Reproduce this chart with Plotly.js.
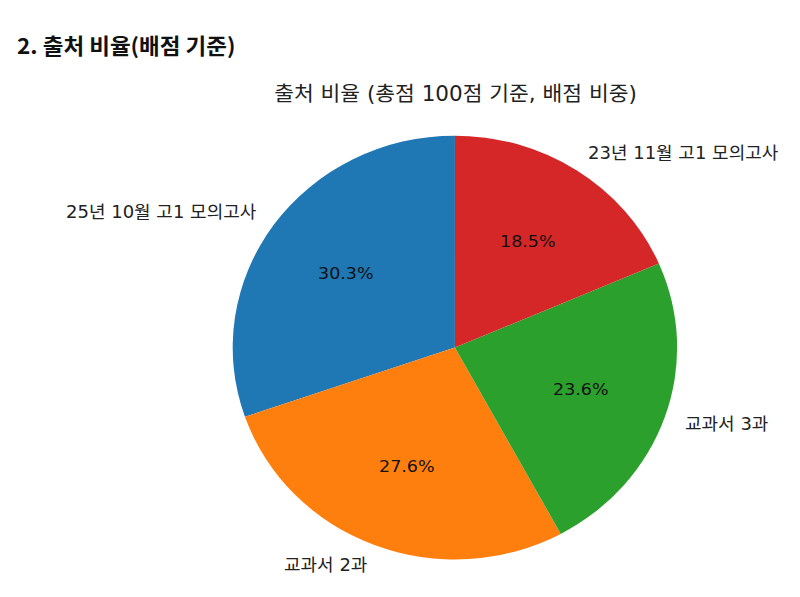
<!DOCTYPE html>
<html>
<head>
<meta charset="utf-8">
<script src="https://cdn.plot.ly/plotly-3.0.1.min.js"></script>
<style>
  body { margin: 0; background: #fff; }
  #wrap { width: 800px; height: 597px; overflow: hidden; }
  /* the reference picture is squeezed a little in height, so draw taller and scale down */
  #plot { width: 800px; height: 626px; transform: scaleY(0.9537); transform-origin: 0 0; }
</style>
</head>
<body>
<div id="wrap"><div id="plot"></div></div>
<script>
const heading = '2. 출처 비율(배점 기준)';
const chartTitle = '출처 비율 (총점 100점 기준, 배점 비중)';
const categories = ['25년 10월 고1 모의고사', '교과서 2과', '교과서 3과', '23년 11월 고1 모의고사'];
const values = [30.3, 27.6, 23.6, 18.5];
const colors = ['#1f77b4', '#ff7f0e', '#2ca02c', '#d62728'];

const W = 800, H = 626;
const domX = [0.2909, 0.8464];
const domY = [0.0629, 0.7728];
const baseFont = 'DejaVu Sans, Noto Sans CJK KR, sans-serif';

// pie geometry in pixels, for placing labels the way matplotlib does
const cx = (domX[0] + domX[1]) / 2 * W;
const cy = H - (domY[0] + domY[1]) / 2 * H;
const r = (domX[1] - domX[0]) * W / 2;
const total = values.reduce((a, b) => a + b, 0);

let annotations = [{
  text: '<b>' + heading + '</b>',
  xref: 'paper', yref: 'paper',
  x: 15 / W, y: 1 - 47 / H,
  xanchor: 'left', yanchor: 'middle',
  showarrow: false,
  font: {family: 'Noto Sans CJK KR, sans-serif', size: 22.5, color: '#111'}
}];

let cum = 0;
for (let i = 0; i < values.length; i++) {
  let mid = (90 + (cum + values[i] / 2) / total * 360) * Math.PI / 180;
  cum += values[i];
  let c = Math.cos(mid), s = Math.sin(mid);
  // percent inside at 0.6 r
  annotations.push({
    text: (values[i] / total * 100).toFixed(1) + '%',
    xref: 'paper', yref: 'paper',
    x: (cx + 0.6 * r * c) / W, y: 1 - (cy - 0.6 * r * s) / H,
    xanchor: 'center', yanchor: 'middle',
    showarrow: false,
    font: {family: baseFont, size: 17.5, color: '#111'}
  });
  // category label outside at 1.1 r
  annotations.push({
    text: categories[i],
    xref: 'paper', yref: 'paper',
    x: (cx + 1.1 * r * c + (c < 0 ? 3 : -3)) / W, y: 1 - (cy - 1.1 * r * s) / H,
    xanchor: c < 0 ? 'right' : 'left', yanchor: 'middle',
    showarrow: false,
    font: {family: baseFont, size: 18, color: '#222'}
  });
}

var data = [{
  type: 'pie',
  labels: categories,
  values: values,
  sort: false,
  direction: 'counterclockwise',
  // plotly puts the first slice clockwise of 12 o'clock; turn it back so it starts there
  rotation: -values[0] / total * 360,
  marker: {colors: colors, line: {width: 0}},
  textinfo: 'none',
  hoverinfo: 'label+percent',
  domain: {x: domX, y: domY}
}];

var layout = {
  width: W,
  height: H,
  margin: {t: 0, r: 0, b: 0, l: 0},
  showlegend: false,
  paper_bgcolor: '#fff',
  title: {
    text: chartTitle,
    x: 455.5 / W, xanchor: 'center',
    y: 1 - 98.5 / H, yanchor: 'middle',
    font: {family: baseFont, size: 21.5, color: '#222'}
  },
  annotations: annotations
};

Plotly.newPlot('plot', data, layout, {staticPlot: true});
</script>
</body>
</html>
